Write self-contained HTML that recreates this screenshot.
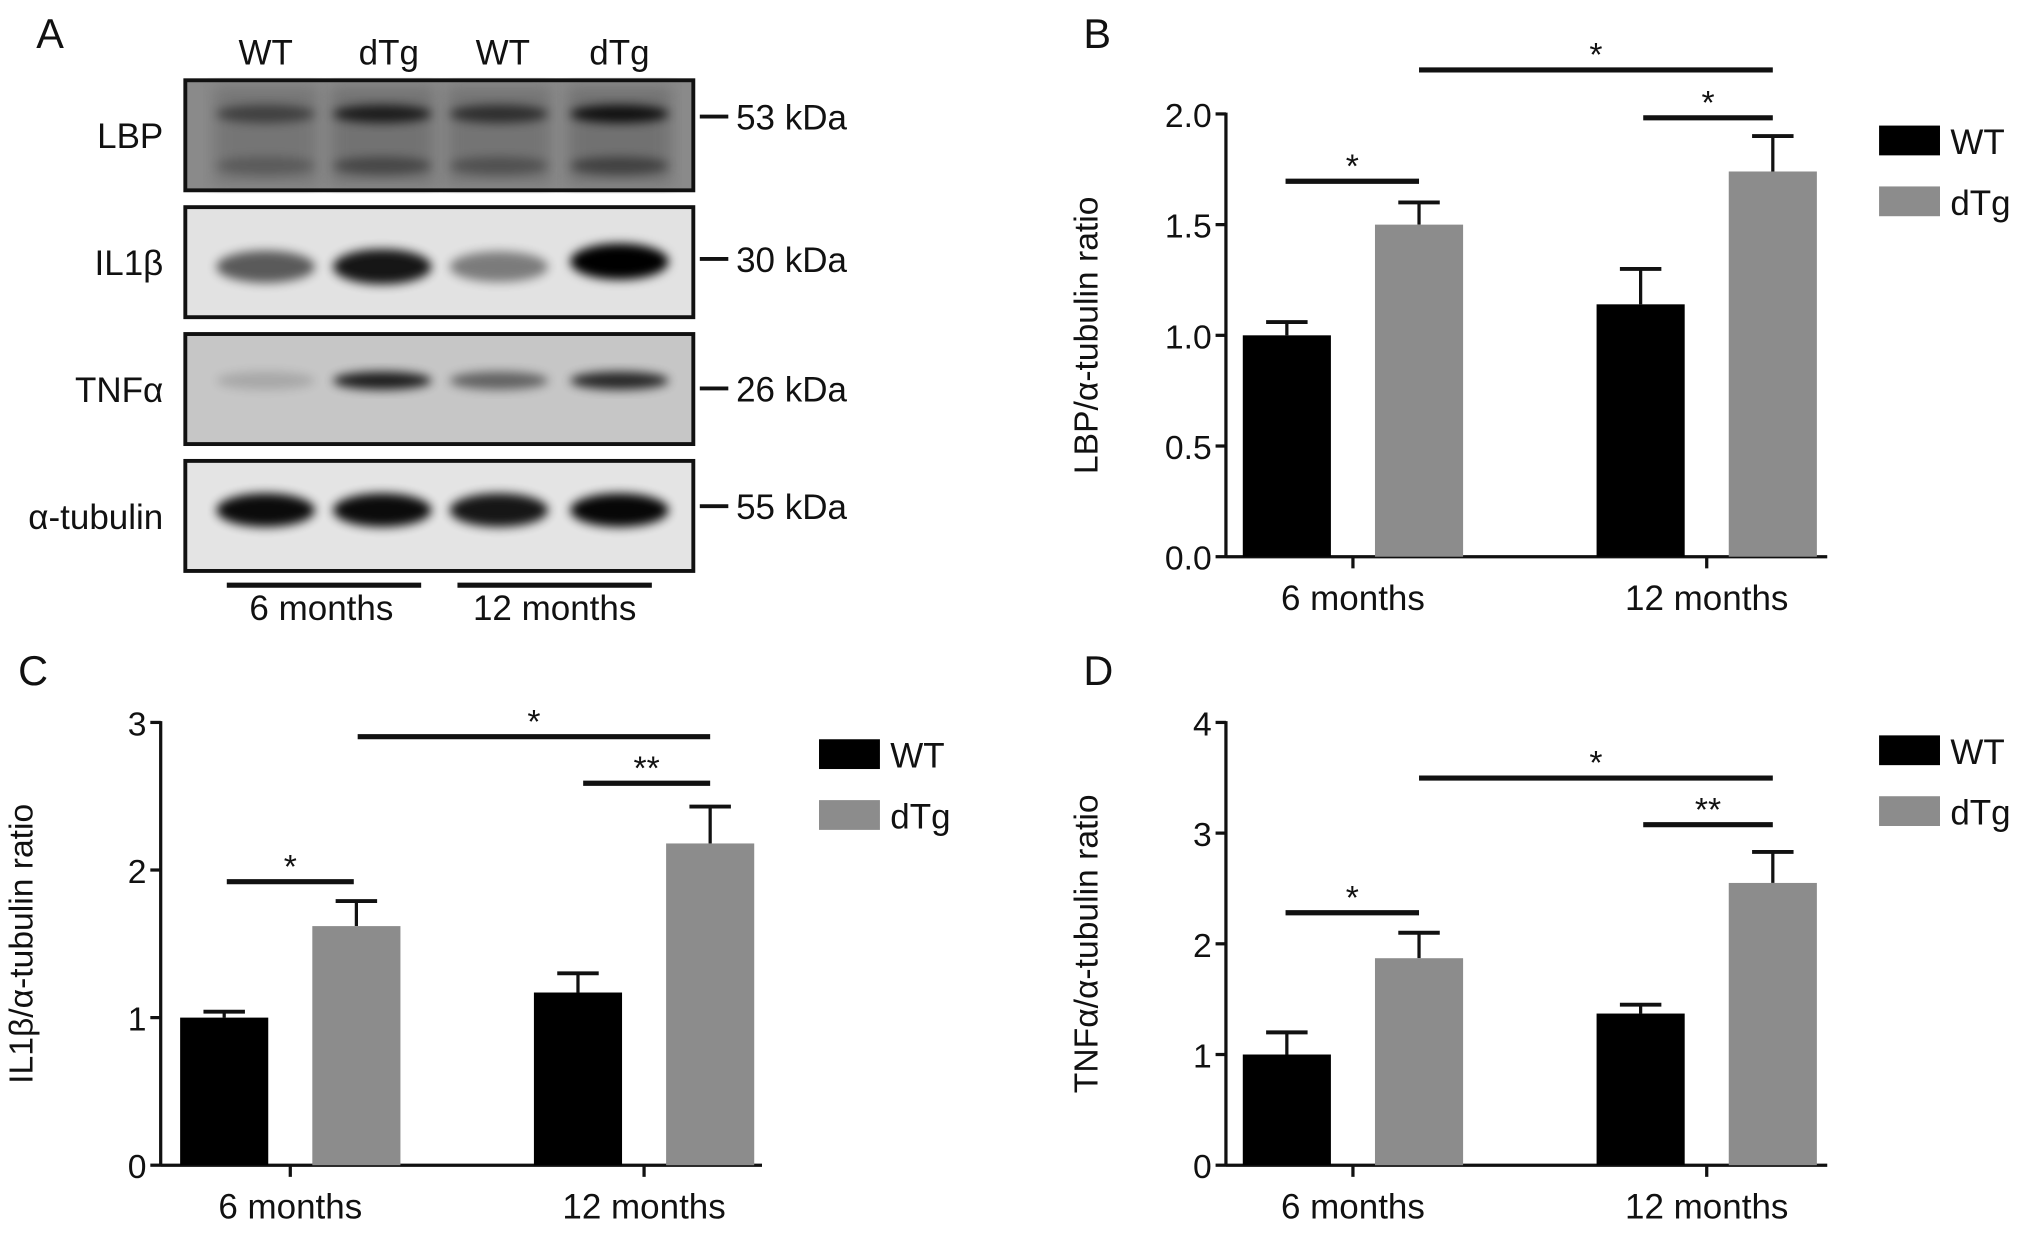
<!DOCTYPE html>
<html><head><meta charset="utf-8"><style>
html,body{margin:0;padding:0;background:#fff}
svg{display:block}
text{font-family:"Liberation Sans",Arial,sans-serif;fill:#111}
</style></head><body>
<svg id="fig" width="2032" height="1239" viewBox="0 0 1568 957" preserveAspectRatio="none">
<defs>
<filter id="blur" x="-20%" y="-50%" width="140%" height="200%"><feGaussianBlur stdDeviation="4"/></filter>
<filter id="blur2"><feGaussianBlur stdDeviation="6"/></filter>
</defs>
<g id="panelA">
<text x="28" y="37" font-size="32">A</text>
<text x="205" y="50" font-size="27" text-anchor="middle">WT</text>
<text x="300" y="50" font-size="27" text-anchor="middle">dTg</text>
<text x="388" y="50" font-size="27" text-anchor="middle">WT</text>
<text x="478" y="50" font-size="27" text-anchor="middle">dTg</text>
</g>
<g id="charts"></g>
</svg>
<script>
// ---------- Blot data ----------
const blotRows = ["LBP","IL1\u03b2","TNF\u03b1","\u03b1-tubulin"];
const blotKda = ["53 kDa","30 kDa","26 kDa","55 kDa"];
// band intensities (0..1) per lane: WT6, dTg6, WT12, dTg12
const bandLBP = [0.45,0.75,0.6,0.85];
const bandIL1 = [0.6,0.9,0.45,1.0];
const bandTNF = [0.15,0.85,0.5,0.8];
const bandTub = [0.95,0.95,0.9,0.97];

// ---------- Chart data ----------
const groups = ["6 months","12 months"];
const seriesNames = ["WT","dTg"];
const lbpWT = [1.0,1.14], lbpWTerr = [0.06,0.16];
const lbpTg = [1.5,1.74], lbpTgErr = [0.1,0.16];
const ilWT = [1.0,1.17], ilWTerr = [0.04,0.13];
const ilTg = [1.62,2.18], ilTgErr = [0.17,0.25];
const tnfWT = [1.0,1.37], tnfWTerr = [0.2,0.08];
const tnfTg = [1.87,2.55], tnfTgErr = [0.23,0.28];
const ticksB = ["0.0","0.5","1.0","1.5","2.0"];
const ticksC = ["0","1","2","3"];
const ticksD = ["0","1","2","3","4"];

const NS="http://www.w3.org/2000/svg";
function mk(tag,attrs,parent){const e=document.createElementNS(NS,tag);for(const k in attrs)e.setAttribute(k,attrs[k]);parent.appendChild(e);return e;}

// ---------- Blots ----------
const pA=document.getElementById('panelA');
const boxTop=[62,160,258,356], boxH=85, boxX=143, boxW=392;
const laneX=[205,295,385,478];
const bgCol=["#8a8a8a","#e2e2e2","#c6c6c6","#e4e4e4"];
const bandY=[[26,66],[46],[36],[38]];
const bandSets=[bandLBP,bandIL1,bandTNF,bandTub];
const kdaY=[28,40,42,35];
blotRows.forEach((name,r)=>{
  const g=mk('g',{},pA);
  
  
  mk('rect',{x:boxX,y:boxTop[r],width:boxW,height:boxH,fill:bgCol[r]},g);
  if(r===0){[0,1,2,3].forEach(i=>mk('rect',{x:laneX[i]-40,y:boxTop[r]+5,width:80,height:75,fill:'#6a6a6a',opacity:0.5+0.3*bandLBP[i],filter:'url(#blur2)'},g));}
  bandSets[r].forEach((v,i)=>{
    bandY[r].forEach((by,k)=>{
      const b=mk('ellipse',{cx:laneX[i],cy:boxTop[r]+by+(r===1&&i===3?-4:0),rx:38,ry:(r===3?13:(r===1?10+4*v:7)),fill:'#000',opacity:(k===1?0.5:1)*v,filter:'url(#blur)'},g);
      
      
    });
  });
  mk('rect',{x:boxX,y:boxTop[r],width:boxW,height:boxH,fill:'none',stroke:'#111','stroke-width':3},g);
  const t=mk('text',{x:126,y:boxTop[r]+boxH/2+10,'font-size':27,'text-anchor':'end'},g);t.textContent=name;
  
  
  mk('line',{x1:540,x2:562,y1:boxTop[r]+kdaY[r],y2:boxTop[r]+kdaY[r],stroke:'#111','stroke-width':3},g);
  const k=mk('text',{x:568,y:boxTop[r]+kdaY[r]+10,'font-size':27},g);k.textContent=blotKda[r];
  
  
});
mk('line',{x1:175,x2:325,y1:452,y2:452,stroke:'#111','stroke-width':4},pA);
mk('line',{x1:353,x2:503,y1:452,y2:452,stroke:'#111','stroke-width':4},pA);
let t1=mk('text',{x:248,y:479,'font-size':27,'text-anchor':'middle'},pA);t1.textContent="6 months";


let t2=mk('text',{x:428,y:479,'font-size':27,'text-anchor':'middle'},pA);t2.textContent="12 months";



// ---------- Bar charts ----------
const charts=document.getElementById('charts');
function chart(cfg){
  const g=mk('g',{},charts);
  
  
  const y=v=>cfg.y0-(v/cfg.max)*(cfg.y0-cfg.yTop);
  const lbl=mk('text',{x:cfg.ax-110,y:cfg.labelY,'font-size':32},g);lbl.textContent=cfg.label;
  
  
  mk('line',{x1:cfg.ax,x2:cfg.ax,y1:cfg.yTop-1,y2:cfg.y0+1,stroke:'#111','stroke-width':2.5},g);
  mk('line',{x1:cfg.ax,x2:cfg.axEnd,y1:cfg.y0,y2:cfg.y0,stroke:'#111','stroke-width':2.5},g);
  cfg.ticks.forEach((tl,i)=>{
    const v=i*cfg.max/(cfg.ticks.length-1);
    mk('line',{x1:cfg.ax-8,x2:cfg.ax,y1:y(v),y2:y(v),stroke:'#111','stroke-width':2.5},g);
    const t=mk('text',{x:cfg.ax-11,y:y(v)+10,'font-size':26,'text-anchor':'end'},g);t.textContent=tl;
    
    
  });
  const yt=mk('text',{x:0,y:0,'font-size':26,'text-anchor':'middle',transform:`translate(${cfg.ax-99},${(cfg.y0+cfg.yTop)/2}) rotate(-90)`},g);
  yt.textContent=cfg.title;
  
  
  const barW=68, gap=34;
  groups.forEach((grp,i)=>{
    const cx=cfg.gx[i];
    mk('line',{x1:cx,x2:cx,y1:cfg.y0,y2:cfg.y0+9,stroke:'#111','stroke-width':2.5},g);
    const t=mk('text',{x:cx,y:cfg.y0+41,'font-size':27,'text-anchor':'middle'},g);t.textContent=grp;
    
    
    [[cfg.wt,cfg.wtE,'#000',cx-gap/2-barW],[cfg.tg,cfg.tgE,'#8c8c8c',cx+gap/2]].forEach((s,k)=>{
      const v=s[0][i], e=s[1][i], bx=s[3];
      const bc=bx+barW/2;
      mk('line',{x1:bc,x2:bc,y1:y(v),y2:y(v+e),stroke:'#111','stroke-width':2.5},g);
      mk('line',{x1:bc-16,x2:bc+16,y1:y(v+e),y2:y(v+e),stroke:'#111','stroke-width':3},g);
      const r=mk('rect',{x:bx,y:y(v),width:barW,height:cfg.y0-y(v),fill:s[2]},g);
      
      
    });
  });
  cfg.sig.forEach(s=>{
    const sg=mk('g',{},g);
    
    
    mk('line',{x1:s[0],x2:s[1],y1:s[2],y2:s[2],stroke:'#111','stroke-width':4},sg);
    const t=mk('text',{x:(s[0]+s[1])/2,y:s[2]-3,'font-size':26,'text-anchor':'middle'},sg);t.textContent=s[3];
  });
  seriesNames.forEach((n,k)=>{
    const lg=mk('g',{},g);
    
    
    const ly=cfg.legY+k*47;
    mk('rect',{x:cfg.legX,y:ly,width:47,height:23,fill:k?'#8c8c8c':'#000'},lg);
    const t=mk('text',{x:cfg.legX+55,y:ly+22,'font-size':27},lg);t.textContent=n;
  });
}
chart({name:'chart-lbp',label:'B',labelY:37,title:'LBP/\u03b1-tubulin ratio',ax:946,axEnd:1410,y0:430,yTop:88,max:2,ticks:ticksB,gx:[1044,1317],
  wt:lbpWT,wtE:lbpWTerr,tg:lbpTg,tgE:lbpTgErr,legX:1450,legY:97,
  sig:[[992,1095,140,'*'],[1268,1368,91,'*'],[1095,1368,54,'*']]});
chart({name:'chart-il1b',label:'C',labelY:529,title:'IL1\u03b2/\u03b1-tubulin ratio',ax:124,axEnd:588,y0:900,yTop:558,max:3,ticks:ticksC,gx:[224,497],
  wt:ilWT,wtE:ilWTerr,tg:ilTg,tgE:ilTgErr,legX:632,legY:571,
  sig:[[175,273,681,'*'],[450,548,605,'**'],[276,548,569,'*']]});
chart({name:'chart-tnfa',label:'D',labelY:529,title:'TNF\u03b1/\u03b1-tubulin ratio',ax:946,axEnd:1410,y0:900,yTop:558,max:4,ticks:ticksD,gx:[1044,1317],
  wt:tnfWT,wtE:tnfWTerr,tg:tnfTg,tgE:tnfTgErr,legX:1450,legY:568,
  sig:[[992,1095,705,'*'],[1268,1368,637,'**'],[1095,1368,601,'*']]});
</script>
</body></html>
